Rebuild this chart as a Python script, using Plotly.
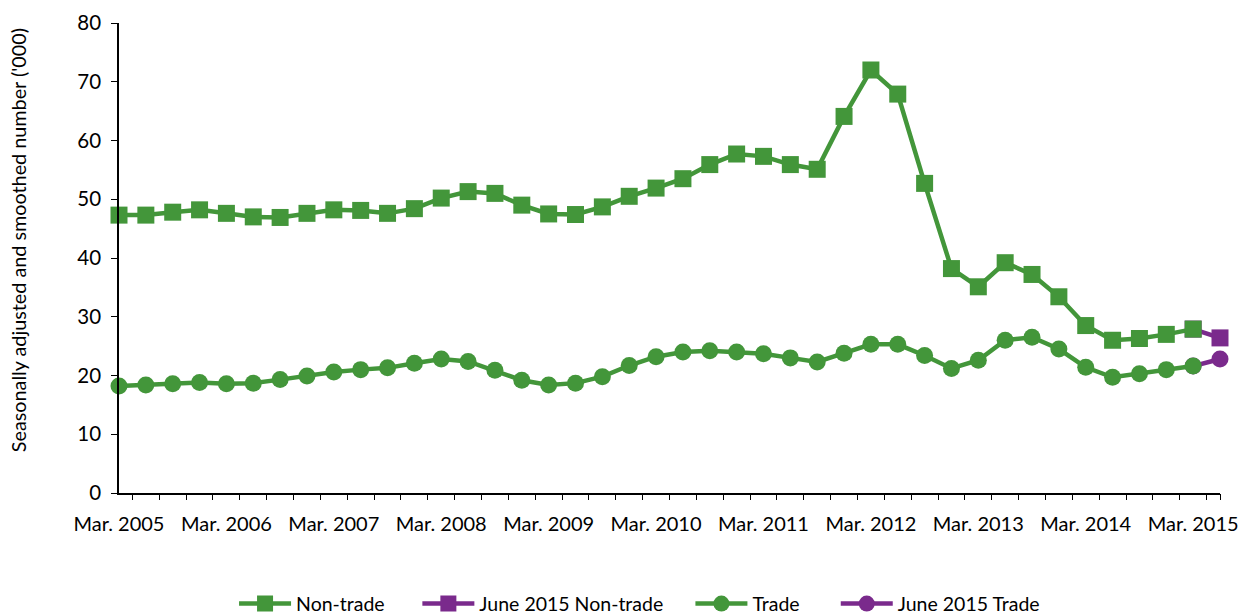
import plotly.graph_objects as go

quarters = []
for yr in range(2005, 2016):
    for m in ["Mar.", "Jun.", "Sep.", "Dec."]:
        quarters.append(f"{m} {yr}")
quarters = quarters[:42]  # Mar. 2005 .. Jun. 2015

non_trade = [47.3, 47.3, 47.8, 48.2, 47.6, 47.0, 46.9, 47.6, 48.2, 48.1,
             47.6, 48.4, 50.2, 51.3, 51.0, 49.0, 47.5, 47.4, 48.7, 50.5,
             51.9, 53.5, 55.9, 57.7, 57.3, 55.9, 55.1, 64.1, 72.0, 67.9,
             52.7, 38.2, 35.1, 39.2, 37.2, 33.4, 28.5, 26.0, 26.3, 27.0,
             27.9]
trade = [18.2, 18.4, 18.6, 18.8, 18.6, 18.7, 19.3, 19.9, 20.6, 21.0,
         21.3, 22.1, 22.8, 22.4, 20.9, 19.2, 18.4, 18.7, 19.8, 21.7,
         23.2, 24.0, 24.2, 24.0, 23.7, 23.0, 22.3, 23.8, 25.3, 25.3,
         23.4, 21.2, 22.6, 26.0, 26.5, 24.5, 21.4, 19.7, 20.3, 21.0,
         21.6]
june2015_non_trade = 26.4
june2015_trade = 22.8

GREEN = "#43963A"
PURPLE = "#7A2A8C"
FONT = "Lato"

main_x = quarters[:len(non_trade)]
june_x = quarters[len(non_trade) - 1:len(non_trade) + 1]
n = len(quarters)

fig = go.Figure()

# empty helper trace so the tick-mark overlay axis is rendered
fig.add_trace(go.Scatter(x=[], y=[], xaxis="x2", showlegend=False,
                         hoverinfo="skip"))

# purple extension traces drawn first (so green markers stay on top)
fig.add_trace(go.Scatter(
    x=june_x, y=[non_trade[-1], june2015_non_trade], name="June 2015 Non-trade",
    mode="lines+markers", line=dict(color=PURPLE, width=4.5),
    marker=dict(symbol="square", size=17, color=PURPLE),
    legend="legend2", cliponaxis=False))
fig.add_trace(go.Scatter(
    x=june_x, y=[trade[-1], june2015_trade], name="June 2015 Trade",
    mode="lines+markers", line=dict(color=PURPLE, width=4.5),
    marker=dict(symbol="circle", size=17, color=PURPLE),
    legend="legend4", cliponaxis=False))
fig.add_trace(go.Scatter(
    x=main_x, y=non_trade, name="Non-trade",
    mode="lines+markers", line=dict(color=GREEN, width=4.5),
    marker=dict(symbol="square", size=17, color=GREEN),
    legend="legend", cliponaxis=False))
fig.add_trace(go.Scatter(
    x=main_x, y=trade, name="Trade",
    mode="lines+markers", line=dict(color=GREEN, width=4.5),
    marker=dict(symbol="circle", size=17, color=GREEN),
    legend="legend3", cliponaxis=False))

march_labels = [q for q in quarters if q.startswith("Mar.")]
boundary_ticks = [i + 0.5 for i in range(n - 1)] + [n - 1]


def leg(xpos):
    return dict(orientation="h", x=xpos, xanchor="left", y=-0.236,
                yanchor="middle", itemwidth=52, bgcolor="rgba(0,0,0,0)",
                font=dict(family=FONT, size=19.5, color="black"))


fig.update_layout(
    width=1238, height=614,
    margin=dict(l=119, r=18, t=23, b=121, autoexpand=False),
    plot_bgcolor="white", paper_bgcolor="white",
    font=dict(family=FONT, size=20, color="black"),
    showlegend=True,
    legend=leg(0.1045),
    legend2=leg(0.271),
    legend3=leg(0.519),
    legend4=leg(0.651),
    xaxis=dict(type="category", categoryorder="array", categoryarray=quarters,
               range=[0, n - 1], automargin=False,
               tickmode="array", tickvals=march_labels, ticktext=march_labels,
               ticks="", ticklabelstandoff=12,
               showline=True, linecolor="black", linewidth=1.5,
               showgrid=False, zeroline=False, tickangle=0,
               tickfont=dict(family=FONT, size=20, color="black")),
    xaxis2=dict(overlaying="x", anchor="y", side="bottom", range=[0, n - 1],
                type="linear",
                tickmode="array", tickvals=boundary_ticks, showticklabels=False,
                ticks="outside", ticklen=6, tickwidth=1.3, tickcolor="black",
                showline=False, showgrid=False, zeroline=False, automargin=False),
    yaxis=dict(range=[0, 80], dtick=10, tick0=0, ticks="outside", ticklen=6,
               tickwidth=1.3, tickcolor="black", showline=True, linecolor="black",
               linewidth=1.5, showgrid=False, zeroline=False, automargin=False,
               ticklabelstandoff=6,
               tickfont=dict(family=FONT, size=20.5, color="black")),
    annotations=[dict(text="Seasonally adjusted and smoothed number ('000)",
                      xref="paper", yref="paper", x=-0.0917, y=0.538,
                      xanchor="center", yanchor="middle", textangle=-90,
                      showarrow=False,
                      font=dict(family=FONT, size=19.8, color="black"))],
)

fig.write_html("out.html", config={"displayModeBar": False},
               post_script="document.body.style.margin='0';")
